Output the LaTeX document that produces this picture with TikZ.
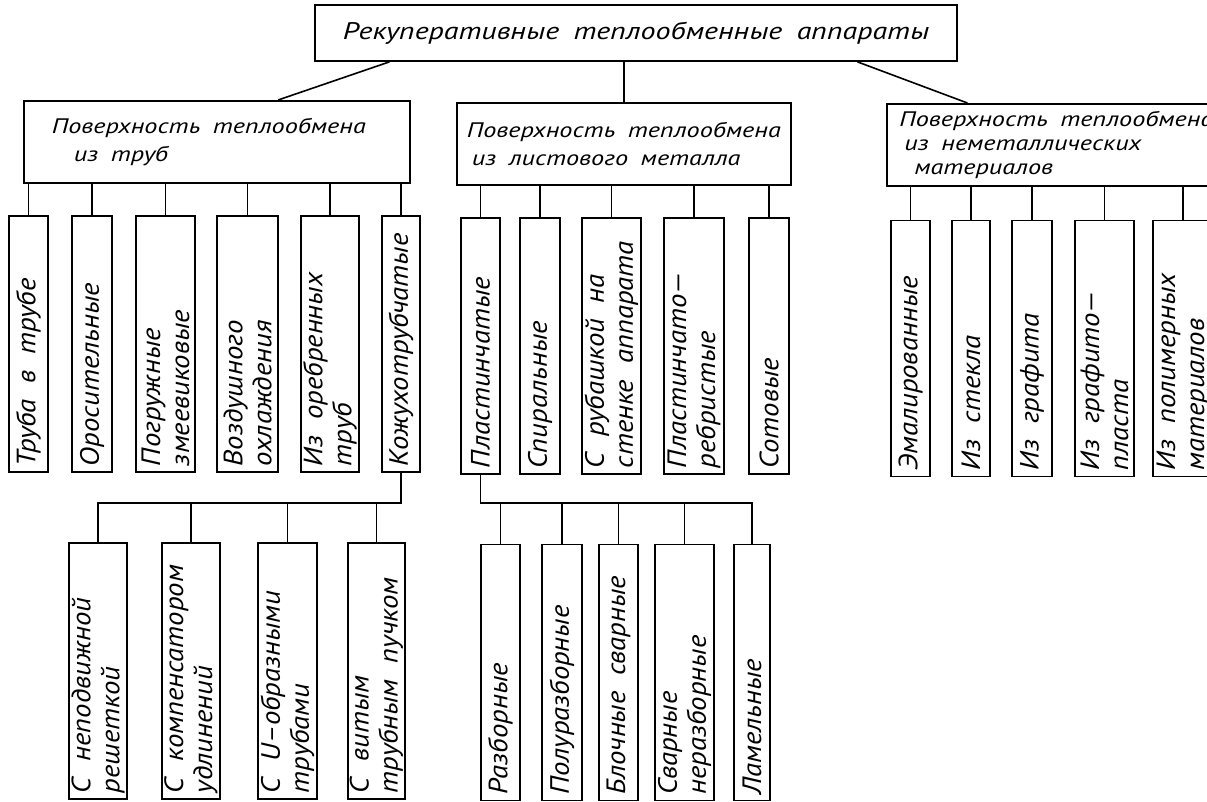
\documentclass[tikz,border=0pt]{standalone}
\usepackage{fontspec}
\newfontfamily\gost{PT Sans}[FakeStretch=1.25]
\newfontfamily\gostleaf{PT Sans}[FakeStretch=1.085]
\newcommand{\gap}{\nobreak\hspace{0.6em}}
\usetikzlibrary{calc}
\tikzset{
  cell/.style={draw, line width=1.7pt, inner sep=0pt},
  title/.style={cell, minimum width=642pt, minimum height=56pt,
    font=\gost\itshape\fontsize{24}{26}\selectfont},
  group/.style={cell, anchor=north west, align=left, minimum height=82pt,
    font=\gost\itshape\fontsize{21}{28}\selectfont},
  leaf/.style={cell, rotate=90, minimum height=#1, inner xsep=6pt, text width=244pt,
    align=left, font=\gostleaf\itshape\fontsize{26.5}{29}\selectfont},
  link/.style={line width=1.6pt},
}

\begin{document}
\begin{tikzpicture}[x=1pt, y=-1pt]
  \path[use as bounding box, clip] (0,0) rectangle (1207,801);

  \node[title] (rek) at (636,33) {Рекуперативные\gap теплообменные\gap аппараты};

  % three kinds of heat-exchange surface
  \node[group, minimum width=386pt] (tubes) at (23,100)
    {Поверхность\gap теплообмена\hspace*{16pt}\\\hspace*{22pt}из\gap труб};
  \node[group, minimum width=334pt] (sheet) at (456,102)
    {Поверхность\gap теплообмена\\\hspace*{5pt}из\gap листового\gap металла};
  \node[group, minimum width=339pt, font=\gost\itshape\fontsize{21}{24}\selectfont] (nonmet) at (886,103)
    {Поверхность\gap теплообмена\\\hspace*{5pt}из\gap неметаллических\\\hspace*{15pt}материалов};

  \draw[link] ($(rek.south west)!0.117!(rek.south east)$) -- ($(tubes.north west)!0.658!(tubes.north east)$);
  \draw[link] (sheet.north) -- (sheet.north |- rek.south);
  \draw[link] ($(rek.south west)!0.844!(rek.south east)$) -- ($(nonmet.north west)!0.239!(nonmet.north east)$);

  % tubes
  \node[leaf=39pt] (t1) at (28.5,344) {Труба\gap в\gap трубе};
  \node[leaf=40pt] (t2) at (92,344) {Оросительные};
  \node[leaf=59pt] (t3) at (165.5,344) {Погружные\\змеевиковые};
  \node[leaf=61pt] (t4) at (247.5,344) {Воздушного\\охлаждения};
  \node[leaf=58pt] (t5) at (330,344) {Из\gap оребренных\\труб};
  \node[leaf=38pt] (t6) at (401,344) {Кожухотрубчатые};

  \draw[link] (t1.east) -- (t1.east |- tubes.south);
  \draw[link] (t2.east) -- (t2.east |- tubes.south);
  \draw[link] (t3.east) -- (t3.east |- tubes.south);
  \draw[link] (t4.east) -- (t4.east |- tubes.south);
  \draw[link] (t5.east) -- (t5.east |- tubes.south);
  \draw[link] (t6.east) -- (t6.east |- tubes.south);

  % sheet metal
  \node[leaf=39pt] (s1) at (480.5,346) {Пластинчатые};
  \node[leaf=40pt] (s2) at (540,346) {Спиральные};
  \node[leaf=59pt] (s3) at (611.5,346) {С\gap рубашкой\gap на\\стенке\gap аппарата};
  \node[leaf=60pt] (s4) at (694,346) {Пластинчато—\\ребристые};
  \node[leaf=40pt] (s5) at (769,346) {Сотовые};

  \draw[link] (s1.east) -- (s1.east |- sheet.south);
  \draw[link] (s2.east) -- (s2.east |- sheet.south);
  \draw[link] (s3.east) -- (s3.east |- sheet.south);
  \draw[link] (s4.east) -- (s4.east |- sheet.south);
  \draw[link] (s5.east) -- (s5.east |- sheet.south);

  % non-metallic
  \node[leaf=39pt] (n1) at (910.5,348.5) {Эмалированные};
  \node[leaf=38pt] (n2) at (971,348.5) {Из\gap стекла};
  \node[leaf=40pt] (n3) at (1032,348.5) {Из\gap графита};
  \node[leaf=59pt] (n4) at (1104.5,348.5) {Из\gap графито—\\пласта};
  \node[leaf=60pt] (n5) at (1183,348.5) {Из\gap полимерных\\материалов};

  \draw[link] (n1.east) -- (n1.east |- nonmet.south);
  \draw[link] (n2.east) -- (n2.east |- nonmet.south);
  \draw[link] (n3.east) -- (n3.east |- nonmet.south);
  \draw[link] (n4.east) -- (n4.east |- nonmet.south);
  \draw[link] (n5.east) -- (n5.east |- nonmet.south);

  % shell-and-tube
  \node[leaf=58pt] (k1) at (98,671) {С\gap неподвижной\\решеткой};
  \node[leaf=58pt] (k2) at (191,671) {С\gap компенсатором\\удлинений};
  \node[leaf=59pt] (k3) at (287.5,671) {С\gap U–образными\\трубами};
  \node[leaf=57pt] (k4) at (376.5,671) {С\gap витым\\трубным\gap пучком};

  \coordinate (kbus) at (401,503);
  \draw[link] (t6.west) -- (kbus) -| (k1.east);
  \draw[link] (k2.east) -- (k2.east |- kbus);
  \draw[link] (k3.east) -- (k3.east |- kbus);
  \draw[link] (k4.east) -- (k4.east |- kbus);

  % plate
  \node[leaf=39pt] (p1) at (500.5,672.5) {Разборные};
  \node[leaf=40pt] (p2) at (562,672.5) {Полуразборные};
  \node[leaf=39pt] (p3) at (618.5,672.5) {Блочные\gap сварные};
  \node[leaf=59pt] (p4) at (684.5,672.5) {Сварные\\неразборные};
  \node[leaf=36pt] (p5) at (752,672.5) {Ламельные};

  \coordinate (pbus) at (480.5,503);
  \draw[link] (s1.west) -- (pbus) -| (p5.east);
  \draw[link] (p1.east) -- (p1.east |- pbus);
  \draw[link] (p2.east) -- (p2.east |- pbus);
  \draw[link] (p3.east) -- (p3.east |- pbus);
  \draw[link] (p4.east) -- (p4.east |- pbus);
\end{tikzpicture}
\end{document}
